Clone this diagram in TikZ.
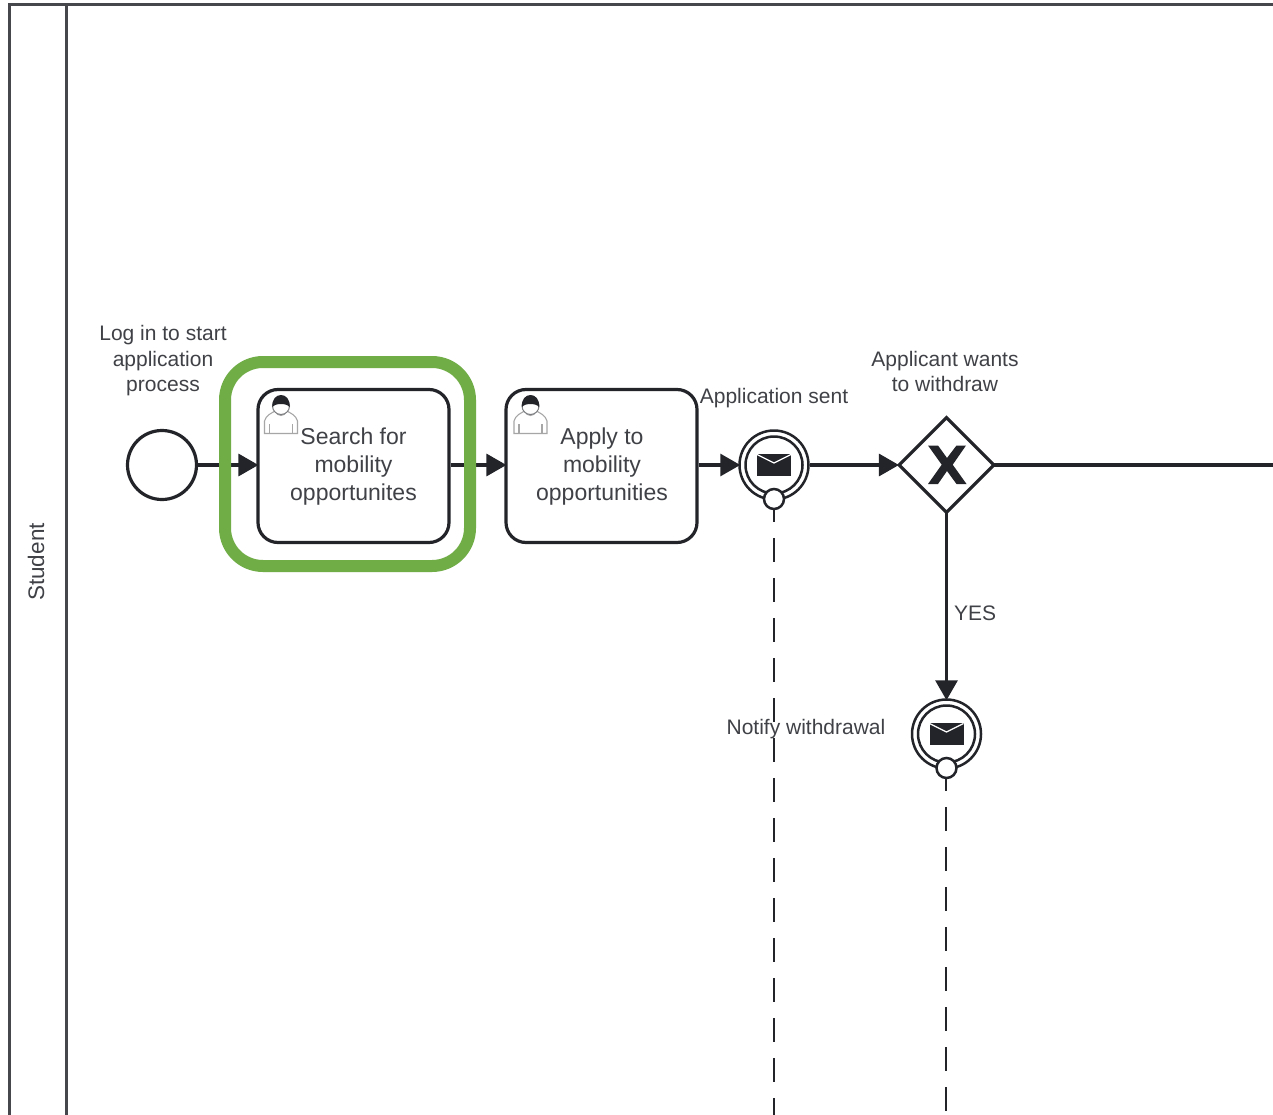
\documentclass[tikz,border=0pt]{standalone}
\usepackage{fontspec}
\setmainfont{Liberation Sans}
\usetikzlibrary{arrows.meta,shapes.geometric}
\definecolor{ink}{HTML}{22242A}
\definecolor{txt}{HTML}{3F4147}
\definecolor{frame}{HTML}{45474D}
\definecolor{hl}{HTML}{70AD47}
\tikzset{
  flow/.style={draw=ink,line width=3.2pt,shorten >=-2pt,-{Triangle[length=20pt,width=22pt,fill=ink]}},
  plain/.style={draw=ink,line width=3.2pt},
  msgflow/.style={draw=ink,line width=2.8pt,dash pattern=on 24pt off 16pt,dash phase=12pt},
  taskbox/.style={draw=ink,line width=3.2pt,rounded corners=20pt,fill=white,minimum width=191pt,minimum height=153pt,inner sep=0pt},
  tasktext/.style={text=txt,align=center,inner sep=0pt,font=\fontsize{23}{28}\selectfont},
  startev/.style={circle,draw=ink,line width=3.2pt,fill=white,minimum size=69pt,inner sep=0pt},
  outerev/.style={circle,draw=ink,line width=2.5pt,fill=white,minimum size=69pt,inner sep=0pt},
  innerev/.style={circle,draw=ink,line width=2.5pt,fill=white,minimum size=57pt,inner sep=0pt},
  dot/.style={circle,draw=ink,line width=2.5pt,fill=white,minimum size=20pt,inner sep=0pt},
  gate/.style={diamond,draw=ink,line width=3.2pt,fill=white,minimum width=96pt,minimum height=96pt,inner sep=0pt,aspect=1},
  lab/.style={text=txt,align=center,inner sep=0pt,font=\fontsize{21}{25.5}\selectfont},
  envelope/.pic={
    \fill[ink] (-17,-11.5) rectangle (17,11);
    \draw[white,line width=1.3pt] (-17,-10.5) -- (0,-2) -- (17,-10.5);
  },
  usericon/.pic={
    \draw[gray!70,line width=1.1pt,fill=white] (-16.5,18.5) -- (-16.5,6) .. controls (-15,0) and (-9,-2) .. (-6,-4) .. controls (-3,2) and (3,2) .. (6,-4) .. controls (9,-2) and (15,0) .. (16.5,6) -- (16.5,18.5) -- cycle;
    \draw[gray!70,line width=1.1pt] (-11.5,18.5) -- (-11.5,9) (11.5,18.5) -- (11.5,9);
    \draw[ink!60,line width=1pt,fill=white] (0,-9) circle [radius=8.5];
    \fill[ink] (-8.5,-8) .. controls (-10,-24) and (10,-24) .. (8.5,-8) .. controls (6,-12) and (-6,-12) .. (-8.5,-8) -- cycle;
  }
}
\begin{document}
\begin{tikzpicture}[x=1pt,y=-1pt]
\clip (0,0) rectangle (1273,1115);
\fill[white] (0,0) rectangle (1273,1115);
% pool
\draw[frame,line width=3pt] (9,1130) -- (9,4.5) -- (1290,4.5);
\draw[frame,line width=3pt] (66.5,4.5) -- (66.5,1130);
\node[rotate=90,text=txt,inner sep=0pt,font=\fontsize{22.5}{25}\selectfont] (pool) at (36,562) {Student};
% free ends
\coordinate (rightend) at (1290,465);
\coordinate (bot1) at (774,1130);
\coordinate (bot2) at (946,1130);
% nodes
\node[startev] (start) at (162,465) {};
\node[taskbox] (t1) at (353.5,466) {};
\node[taskbox] (t2) at (601.5,466) {};
\node[outerev] (ev1o) at (774,465) {};
\node[innerev] (ev1i) at (774,465) {};
\node[dot] (ev1d) at (774,499) {};
\node[gate] (gw) at (946.5,465) {};
\node[outerev] (ev2o) at (946.5,734) {};
\node[innerev] (ev2i) at (946.5,734) {};
\node[dot] (ev2d) at (946.5,768) {};
% connectors
\draw[msgflow] (ev1d.south) -- (bot1);
\draw[msgflow] (ev2d.south -| bot2) -- (bot2);
\draw[flow] (start.east) -- (start.east -| t1.west);
\draw[flow] (start.east -| t1.east) -- (start.east -| t2.west);
\draw[flow] (start.east -| t2.east) -- (ev1o.west);
\draw[flow] (ev1o.east) -- (gw.west);
\draw[plain,shorten <=-3pt] (gw.east) -- (rightend);
\draw[flow,shorten <=-3pt] (gw.south) -- (ev2o.north);
% icons
\pic at (ev1o) {envelope};
\pic at (ev2o) {envelope};
\pic at (281,415) {usericon};
\pic at (530.5,415) {usericon};
\fill[ink] (928,445.5) -- (938,445.5) -- (947,458) -- (956.5,445.5) -- (966,445.5) -- (952.7,464.7) -- (966.5,484) -- (956.5,484) -- (947,471) -- (938,484) -- (928,484) -- (941.7,464.7) -- cycle;
% task texts
\node[tasktext] (t1l) at (353.5,467) {Search for\\mobility\\opportunites};
\node[tasktext] (t2l) at (602,467) {Apply to\\mobility\\opportunities};
% labels
\node[lab] (l1) at (163,361) {Log in to start\\application\\process};
\node[lab] (l2) at (774,398) {Application sent};
\node[lab] (l3) at (945,371.5) {Applicant wants\\to withdraw};
\node[lab] (l4) at (975,613) {YES};
\node[lab] (l5) at (806,729) {Notify withdrawal};
% highlight
\draw[hl,line width=12pt,rounded corners=38pt] (225,362) rectangle (470,566);
\end{tikzpicture}
\end{document}
